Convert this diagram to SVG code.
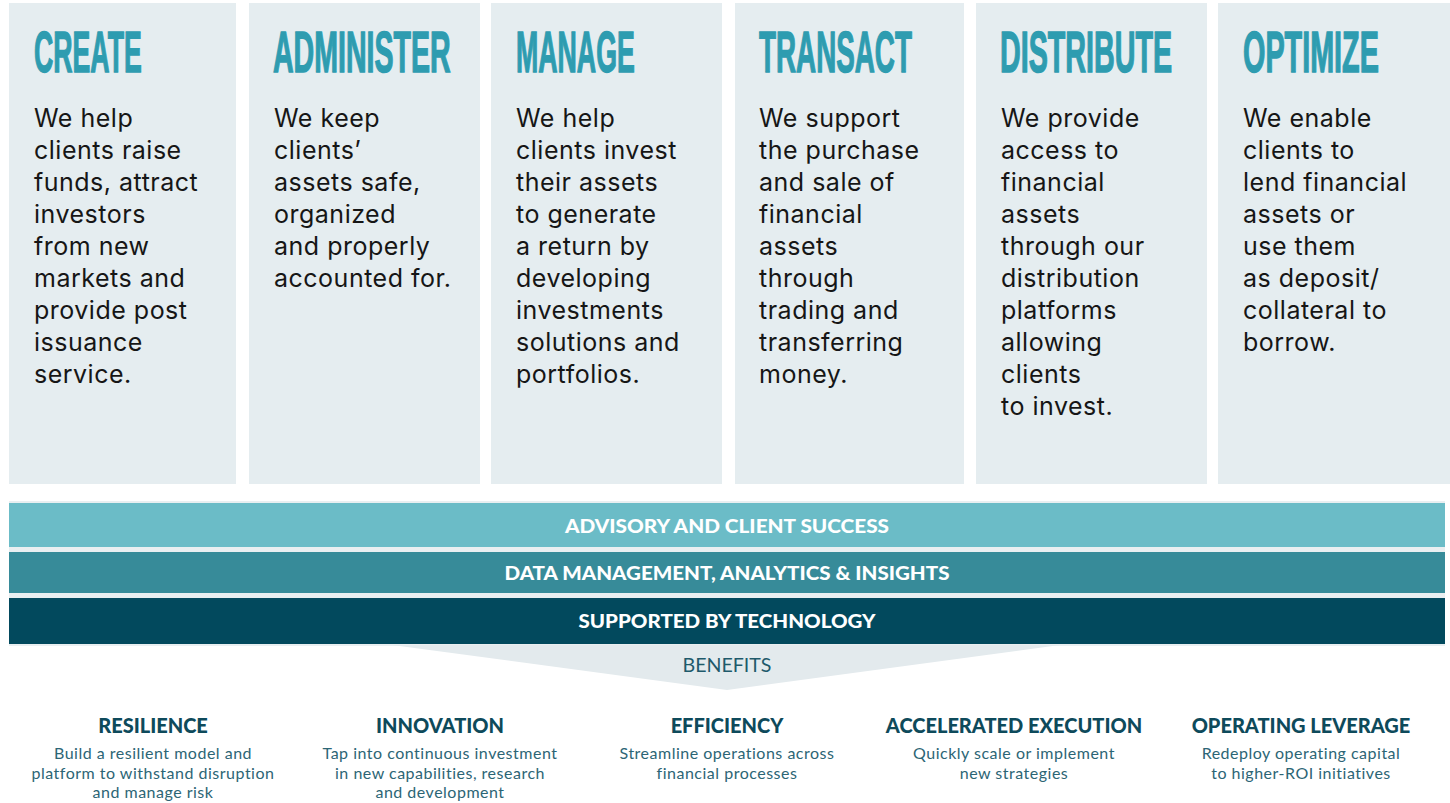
<svg xmlns="http://www.w3.org/2000/svg" width="1450" height="803" viewBox="0 0 1450 803">
  <style>
    .col { fill: #e5edf0; }
    .head { font-family: "Liberation Sans Narrow", "Liberation Sans", Arial, sans-serif; font-weight: bold; font-size: 58px; fill: #2e9cb0; stroke: #2e9cb0; stroke-width: 1.4px; }
    .body { font-family: Inter, "Liberation Sans", sans-serif; font-size: 25px; letter-spacing: 0.5px; fill: #161616; }
    .band-t { font-family: Lato, "Liberation Sans", sans-serif; font-weight: 900; font-size: 19px; fill: #ffffff; text-anchor: middle; }
    .ben-h { font-family: Lato, "Liberation Sans", sans-serif; font-weight: 900; font-size: 20px; fill: #0e4a5b; text-anchor: middle; }
    .ben-d { font-family: Lato, "Liberation Sans", sans-serif; font-size: 16px; letter-spacing: 0.5px; fill: #2c6575; text-anchor: middle; }
  </style>

  <rect width="1450" height="803" fill="#ffffff"/>

  <!-- Service columns: condensed headings are drawn squeezed to 55% width -->
  <g id="create">
    <rect class="col" x="9" y="3" width="227" height="481"/>
    <text class="head" transform="translate(34 72) scale(0.55 1)" textLength="196" lengthAdjust="spacingAndGlyphs">CREATE</text>
    <text class="body" x="34" y="127">We help<tspan x="34" dy="32">clients raise</tspan><tspan x="34" dy="32">funds, attract</tspan><tspan x="34" dy="32">investors</tspan><tspan x="34" dy="32">from new</tspan><tspan x="34" dy="32">markets and</tspan><tspan x="34" dy="32">provide post</tspan><tspan x="34" dy="32">issuance</tspan><tspan x="34" dy="32">service.</tspan></text>
  </g>
  <g id="administer">
    <rect class="col" x="249" y="3" width="231" height="481"/>
    <text class="head" transform="translate(273 72) scale(0.55 1)" textLength="323" lengthAdjust="spacingAndGlyphs">ADMINISTER</text>
    <text class="body" x="274" y="127">We keep<tspan x="274" dy="32">clients’</tspan><tspan x="274" dy="32">assets safe,</tspan><tspan x="274" dy="32">organized</tspan><tspan x="274" dy="32">and properly</tspan><tspan x="274" dy="32">accounted for.</tspan></text>
  </g>
  <g id="manage">
    <rect class="col" x="491" y="3" width="231" height="481"/>
    <text class="head" transform="translate(516 72) scale(0.55 1)" textLength="216" lengthAdjust="spacingAndGlyphs">MANAGE</text>
    <text class="body" x="516" y="127">We help<tspan x="516" dy="32">clients invest</tspan><tspan x="516" dy="32">their assets</tspan><tspan x="516" dy="32">to generate</tspan><tspan x="516" dy="32">a return by</tspan><tspan x="516" dy="32">developing</tspan><tspan x="516" dy="32">investments</tspan><tspan x="516" dy="32">solutions and</tspan><tspan x="516" dy="32">portfolios.</tspan></text>
  </g>
  <g id="transact">
    <rect class="col" x="735" y="3" width="229" height="481"/>
    <text class="head" transform="translate(759 72) scale(0.55 1)" textLength="278" lengthAdjust="spacingAndGlyphs">TRANSACT</text>
    <text class="body" x="759" y="127">We support<tspan x="759" dy="32">the purchase</tspan><tspan x="759" dy="32">and sale of</tspan><tspan x="759" dy="32">financial</tspan><tspan x="759" dy="32">assets</tspan><tspan x="759" dy="32">through</tspan><tspan x="759" dy="32">trading and</tspan><tspan x="759" dy="32">transferring</tspan><tspan x="759" dy="32">money.</tspan></text>
  </g>
  <g id="distribute">
    <rect class="col" x="976" y="3" width="231" height="481"/>
    <text class="head" transform="translate(1000 72) scale(0.55 1)" textLength="313" lengthAdjust="spacingAndGlyphs">DISTRIBUTE</text>
    <text class="body" x="1001" y="127">We provide<tspan x="1001" dy="32">access to</tspan><tspan x="1001" dy="32">financial</tspan><tspan x="1001" dy="32">assets</tspan><tspan x="1001" dy="32">through our</tspan><tspan x="1001" dy="32">distribution</tspan><tspan x="1001" dy="32">platforms</tspan><tspan x="1001" dy="32">allowing</tspan><tspan x="1001" dy="32">clients</tspan><tspan x="1001" dy="32">to invest.</tspan></text>
  </g>
  <g id="optimize">
    <rect class="col" x="1218" y="3" width="232" height="481"/>
    <text class="head" transform="translate(1243 72) scale(0.55 1)" textLength="247" lengthAdjust="spacingAndGlyphs">OPTIMIZE</text>
    <text class="body" x="1243" y="127">We enable<tspan x="1243" dy="32">clients to</tspan><tspan x="1243" dy="32">lend financial</tspan><tspan x="1243" dy="32">assets or</tspan><tspan x="1243" dy="32">use them</tspan><tspan x="1243" dy="32">as deposit/</tspan><tspan x="1243" dy="32">collateral to</tspan><tspan x="1243" dy="32">borrow.</tspan></text>
  </g>

  <!-- Capability bands -->
  <g id="bands">
    <rect x="9" y="501" width="1436" height="145" fill="#e9eff1"/>
    <g id="advisory">
      <rect x="9" y="503" width="1436" height="44" fill="#6bbcc7"/>
      <text class="band-t" x="727" y="533" textLength="324" lengthAdjust="spacingAndGlyphs">ADVISORY AND CLIENT SUCCESS</text>
    </g>
    <g id="data">
      <rect x="9" y="552" width="1436" height="41" fill="#378b99"/>
      <text class="band-t" x="727" y="580" textLength="445" lengthAdjust="spacingAndGlyphs">DATA MANAGEMENT, ANALYTICS &amp; INSIGHTS</text>
    </g>
    <g id="technology">
      <rect x="9" y="598" width="1436" height="46" fill="#02495d"/>
      <text class="band-t" x="727" y="628" textLength="297" lengthAdjust="spacingAndGlyphs">SUPPORTED BY TECHNOLOGY</text>
    </g>
  </g>

  <!-- Benefits chevron -->
  <g id="benefits">
    <polygon points="392,645 1060,645 727,690" fill="#e3eaed"/>
    <text x="727" y="672" text-anchor="middle" font-family="Lato, 'Liberation Sans', sans-serif" font-size="20" fill="#1f5a6b" textLength="89" lengthAdjust="spacingAndGlyphs">BENEFITS</text>
  </g>

  <g id="resilience">
    <text class="ben-h" x="153" y="733">RESILIENCE</text>
    <text class="ben-d" x="153" y="759">Build a resilient model and<tspan x="153" dy="19.5">platform to withstand disruption</tspan><tspan x="153" dy="19.5">and manage risk</tspan></text>
  </g>
  <g id="innovation">
    <text class="ben-h" x="440" y="733">INNOVATION</text>
    <text class="ben-d" x="440" y="759">Tap into continuous investment<tspan x="440" dy="19.5">in new capabilities, research</tspan><tspan x="440" dy="19.5">and development</tspan></text>
  </g>
  <g id="efficiency">
    <text class="ben-h" x="727" y="733">EFFICIENCY</text>
    <text class="ben-d" x="727" y="759">Streamline operations across<tspan x="727" dy="19.5">financial processes</tspan></text>
  </g>
  <g id="accelerated-execution">
    <text class="ben-h" x="1014" y="733">ACCELERATED EXECUTION</text>
    <text class="ben-d" x="1014" y="759">Quickly scale or implement<tspan x="1014" dy="19.5">new strategies</tspan></text>
  </g>
  <g id="operating-leverage">
    <text class="ben-h" x="1301" y="733">OPERATING LEVERAGE</text>
    <text class="ben-d" x="1301" y="759">Redeploy operating capital<tspan x="1301" dy="19.5">to higher-ROI initiatives</tspan></text>
  </g>
</svg>
